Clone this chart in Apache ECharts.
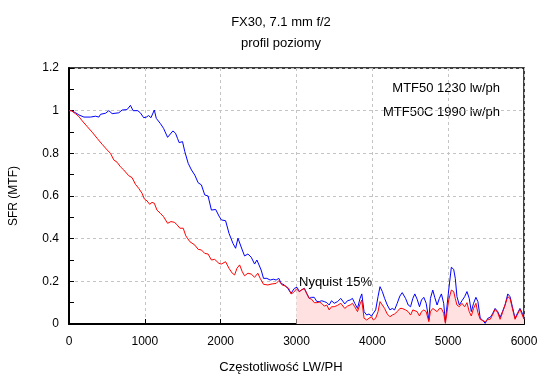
<!DOCTYPE html>
<html><head><meta charset="utf-8">
<script src="https://cdn.jsdelivr.net/npm/echarts@6/dist/echarts.min.js"></script>
<style>html,body{margin:0;padding:0;background:#fff}#c{width:550px;height:380px}</style>
</head><body><div id="c"></div>
<script>
var titleText = "FX30, 7.1 mm f/2";
var subtitleText = "profil poziomy";
var xAxisName = "Częstotliwość LW/PH";
var yAxisName = "SFR (MTF)";
var notes = ["MTF50 1230 lw/ph", "MTF50C 1990 lw/ph"];
var nyquistText = "Nyquist 15%";
var nyquistFreq = 3000;

var blueFreq = [0,30,88,131,197,285,350,394,416,482,525,569,657,700,766,810,845,906,941,985,1020,1050,1081,1125,1151,1204,1247,1300,1326,1370,1405,1431,1453,1497,1527,1572,1615,1659,1703,1746,1790,1834,1878,1934,1978,2009,2065,2110,2162,2197,2228,2250,2285,2315,2359,2403,2447,2478,2504,2534,2565,2609,2652,2696,2731,2767,2797,2840,2884,2928,2972,3007,3037,3068,3103,3138,3168,3200,3234,3269,3300,3331,3366,3400,3431,3462,3497,3541,3584,3606,3637,3672,3707,3738,3768,3804,3838,3861,3891,3926,3956,3988,4014,4044,4075,4101,4132,4162,4197,4232,4263,4293,4328,4363,4394,4438,4473,4504,4534,4560,4591,4622,4648,4679,4710,4745,4766,4797,4823,4854,4884,4911,4941,4963,4985,5007,5042,5073,5094,5116,5147,5182,5217,5248,5278,5305,5335,5366,5392,5423,5453,5488,5523,5554,5584,5619,5654,5685,5716,5750,5786,5816,5847,5882,5917,5947,5978,6000];
var blueMtf = [1.0,1.0,0.99,0.98,0.97,0.97,0.974,0.97,0.983,0.988,1.0,0.986,0.99,1.003,1.005,1.025,1.0,1.0,0.99,0.967,0.97,0.977,0.967,1.003,0.964,0.94,0.917,0.875,0.875,0.905,0.894,0.87,0.85,0.855,0.808,0.753,0.722,0.698,0.662,0.652,0.605,0.60,0.534,0.537,0.506,0.488,0.484,0.425,0.378,0.355,0.402,0.406,0.347,0.319,0.328,0.313,0.281,0.30,0.292,0.253,0.214,0.214,0.206,0.21,0.206,0.214,0.19,0.183,0.167,0.144,0.167,0.172,0.152,0.16,0.167,0.141,0.12,0.125,0.125,0.105,0.105,0.109,0.105,0.1,0.089,0.109,0.097,0.105,0.12,0.128,0.094,0.109,0.1125,0.12,0.097,0.073,0.12,0.141,0.058,0.042,0.047,0.0375,0.034,0.066,0.128,0.175,0.152,0.12,0.089,0.066,0.073,0.066,0.097,0.131,0.147,0.12,0.089,0.081,0.12,0.141,0.116,0.081,0.1125,0.125,0.097,0.019,0.12,0.159,0.125,0.089,0.12,0.141,0.097,0.011,0.019,0.159,0.266,0.256,0.214,0.128,0.089,0.109,0.128,0.152,0.12,0.058,0.097,0.125,0.105,0.027,0.019,0.003,0.027,0.031,0.047,0.073,0.058,0.031,0.058,0.089,0.141,0.128,0.081,0.027,0.053,0.073,0.05,0.027];

var redFreq = [0,30,88,131,175,241,306,372,438,503,547,591,635,678,722,788,832,876,919,963,994,1029,1064,1094,1125,1160,1204,1247,1300,1344,1388,1423,1462,1506,1541,1593,1659,1703,1746,1790,1834,1878,1921,1978,2009,2065,2110,2153,2184,2215,2250,2285,2315,2359,2403,2447,2490,2521,2565,2622,2678,2731,2767,2810,2853,2897,2928,2958,3000,3037,3068,3103,3138,3168,3200,3234,3269,3300,3331,3366,3400,3431,3462,3497,3541,3584,3606,3637,3672,3707,3738,3768,3804,3838,3861,3891,3926,3956,3988,4014,4044,4075,4101,4132,4162,4197,4232,4263,4293,4328,4363,4394,4438,4473,4504,4534,4560,4591,4622,4648,4679,4710,4745,4766,4797,4823,4854,4884,4911,4941,4963,4985,5007,5042,5073,5094,5116,5147,5182,5217,5248,5278,5305,5335,5366,5392,5423,5453,5488,5523,5554,5584,5619,5654,5685,5716,5750,5786,5816,5847,5882,5917,5947,5978,6000];
var redMtf = [1.0,1.0,0.985,0.972,0.952,0.925,0.899,0.87,0.842,0.816,0.80,0.769,0.758,0.737,0.722,0.695,0.686,0.655,0.636,0.613,0.586,0.577,0.561,0.57,0.566,0.534,0.519,0.503,0.472,0.48,0.477,0.466,0.449,0.449,0.413,0.386,0.37,0.35,0.347,0.331,0.328,0.30,0.303,0.284,0.281,0.292,0.261,0.238,0.23,0.261,0.277,0.245,0.226,0.238,0.234,0.219,0.238,0.214,0.186,0.183,0.188,0.19,0.203,0.183,0.178,0.167,0.141,0.147,0.164,0.152,0.16,0.167,0.141,0.12,0.116,0.1,0.1,0.103,0.097,0.084,0.089,0.066,0.081,0.081,0.0875,0.097,0.1,0.073,0.084,0.089,0.097,0.081,0.058,0.094,0.1125,0.027,0.019,0.027,0.034,0.019,0.027,0.058,0.105,0.089,0.073,0.047,0.034,0.042,0.047,0.058,0.073,0.073,0.066,0.058,0.042,0.066,0.069,0.058,0.0375,0.058,0.066,0.058,0.011,0.058,0.073,0.066,0.058,0.073,0.073,0.05,0.003,0.006,0.1125,0.159,0.152,0.12,0.089,0.081,0.097,0.081,0.1,0.058,0.0375,0.073,0.097,0.053,0.022,0.016,0.011,0.022,0.022,0.042,0.069,0.053,0.022,0.053,0.089,0.128,0.12,0.073,0.022,0.047,0.069,0.042,0.022];

function zip(a, b) { return a.map(function (v, i) { return [v, b[i]]; }); }
var blueData = zip(blueFreq, blueMtf);
var redData = zip(redFreq, redMtf);
var fillData = redData.filter(function (p) { return p[0] >= nyquistFreq; });

var FONT = "Liberation Sans";
var GRIDC = '#c4c4c4';
var chart = echarts.init(document.getElementById('c'), null, { renderer: 'canvas' });
chart.setOption({
  animation: false,
  backgroundColor: '#fff',
  textStyle: { fontFamily: FONT },
  grid: { left: 67, right: 26, top: 68, bottom: 56, show: true, borderColor: '#000', borderWidth: 1.5, backgroundColor: 'transparent' },
  xAxis: {
    type: 'value', min: 0, max: 6000, interval: 1000,
    axisLine: { show: true, onZero: false, lineStyle: { color: '#000', width: 2 } },
    axisTick: { show: true, inside: true, length: 5, lineStyle: { color: '#000' } },
    axisLabel: { fontFamily: FONT, fontSize: 12, color: '#000', margin: 12, formatter: function (v) { return String(v); } },
    splitLine: { show: true, lineStyle: { color: GRIDC, type: [3, 3], width: 1 } }
  },
  yAxis: {
    type: 'value', min: 0, max: 1.2, interval: 0.2,
    name: yAxisName, nameLocation: 'middle', nameGap: 49, nameRotate: 90,
    nameTextStyle: { fontFamily: FONT, fontSize: 12, color: '#000' },
    axisLine: { show: true, onZero: false, lineStyle: { color: '#000', width: 2 } },
    axisTick: { show: true, inside: true, length: 5, lineStyle: { color: '#000' } },
    minorTick: { show: true, splitNumber: 2, length: 5, lineStyle: { color: '#000' } },
    axisLabel: { fontFamily: FONT, fontSize: 12, color: '#000', margin: 10 },
    splitLine: { show: true, lineStyle: { color: GRIDC, type: [3, 3], width: 1 } }
  },
  series: [
    { type: 'line', data: fillData, showSymbol: false, symbol: 'none', silent: true,
      lineStyle: { width: 0, opacity: 0 }, areaStyle: { color: '#ffe1e1', opacity: 1 }, z: 1 },
    { type: 'line', data: redData, showSymbol: false, symbol: 'none',
      lineStyle: { color: '#ff0000', width: 1 }, z: 3 },
    { type: 'line', data: blueData, showSymbol: false, symbol: 'none',
      lineStyle: { color: '#0000ff', width: 1 }, z: 2 }
  ],
  graphic: [
    { type: 'text', x: 281, y: 22, style: { text: titleText, align: 'center', verticalAlign: 'middle', fontFamily: FONT, fontSize: 13, fill: '#000' } },
    { type: 'text', x: 281, y: 43, style: { text: subtitleText, align: 'center', verticalAlign: 'middle', fontFamily: FONT, fontSize: 13, fill: '#000' } },
    { type: 'text', x: 281, y: 367, style: { text: xAxisName, align: 'center', verticalAlign: 'middle', fontFamily: FONT, fontSize: 13, fill: '#000' } },
    { type: 'text', x: 500, y: 88, style: { text: notes[0], align: 'right', verticalAlign: 'middle', fontFamily: FONT, fontSize: 13, fill: '#000' } },
    { type: 'text', x: 500, y: 112, style: { text: notes[1], align: 'right', verticalAlign: 'middle', fontFamily: FONT, fontSize: 13, fill: '#000' } },
    { type: 'text', x: 299, y: 282, style: { text: nyquistText, align: 'left', verticalAlign: 'middle', fontFamily: FONT, fontSize: 13, fill: '#000' }, z: 10 }
  ]
});
</script></body></html>
